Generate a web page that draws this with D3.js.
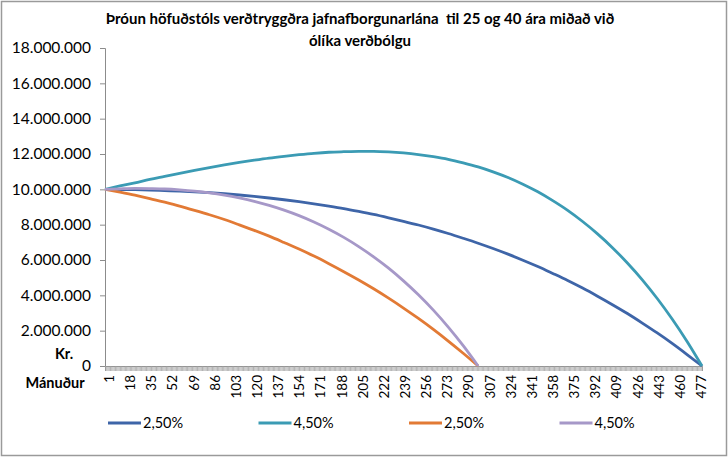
<!DOCTYPE html>
<html><head><meta charset="utf-8">
<script src="https://cdn.jsdelivr.net/npm/d3@7"></script>
<style>
body{margin:0;background:#fff;}
text{font-family:Lato,"Open Sans",sans-serif;fill:#000;}
</style></head>
<body><svg id="chart" width="728" height="457"></svg>
<script>
// ---- data (balance in kr. at yearly points) ----
const months = [0,12,24,36,48,60,72,84,96,108,120,132,144,156,168,180,192,204,216,228,240,252,264,276,288,300,312,324,336,348,360,372,384,396,408,420,432,444,456,468,480];
const s40_25 = [10000000,9990000,9980000,9960000,9930000,9900000,9860000,9810000,9750000,9680000,9600000,9510000,9410000,9300000,9180000,9050000,8910000,8750000,8580000,8390000,8190000,7980000,7750000,7500000,7230000,6950000,6650000,6330000,5990000,5630000,5240000,4840000,4410000,3950000,3470000,2970000,2430000,1870000,1280000,650000,0];
const s40_45 = [10000000,10190000,10370000,10560000,10730000,10900000,11070000,11230000,11380000,11520000,11650000,11770000,11870000,11960000,12040000,12100000,12130000,12150000,12150000,12120000,12060000,11970000,11850000,11700000,11500000,11270000,10990000,10670000,10290000,9860000,9360000,8810000,8180000,7480000,6700000,5830000,4880000,3820000,2660000,1390000,0];
const s25_25 = [10000000,9840000,9670000,9480000,9270000,9050000,8810000,8560000,8290000,7990000,7680000,7350000,6990000,6620000,6220000,5790000,5340000,4870000,4370000,3840000,3280000,2690000,2070000,1410000,720000,0];
const s25_45 = [10000000,10030000,10050000,10040000,10020000,9970000,9900000,9800000,9670000,9510000,9320000,9090000,8820000,8510000,8150000,7740000,7280000,6760000,6180000,5540000,4820000,4030000,3160000,2200000,1150000,0];
const seriesNames = ["2,50%","4,50%","2,50%","4,50%"];
const yTicks = [0,2000000,4000000,6000000,8000000,10000000,12000000,14000000,16000000,18000000];
const xTickLabels = [1,18,35,52,69,86,103,120,137,154,171,188,205,222,239,256,273,290,307,324,341,358,375,392,409,426,443,460,477];
const titleLines = ["Þróun höfuðstóls verðtryggðra jafnafborgunarlána  til 25 og 40 ára miðað við","ólíka verðbólgu"];

const colors = ["#3e65a8","#3b9bb4","#e27a35","#a698c8"];
const series = [s40_25, s40_45, s25_25, s25_45];

const svg = d3.select("#chart");
svg.append("rect").attr("x",1.5).attr("y",1.5).attr("width",725).attr("height",454)
  .attr("fill","#fff").attr("stroke","#9a9a9a").attr("stroke-width",1.5);

const x0 = 105, x1 = 702, yTop = 48, yBot = 366;
const x = d3.scaleLinear().domain([0,480]).range([x0,x1]);
const y = d3.scaleLinear().domain([0,18000000]).range([yBot,yTop]);

// title
const tt = svg.append("g");
titleLines.forEach((t,i)=>{
  tt.append("text").attr("x",360).attr("y",24+i*22).attr("text-anchor","middle")
    .style("font-weight","bold").style("font-size","15px").style("white-space","pre").text(t);
});

// y axis
const yAxis = d3.axisLeft(y).tickValues(yTicks).tickSize(5).tickPadding(9)
  .tickFormat(d=> d===0 ? "0" : d3.format(",")(d).replace(/,/g,"."));
const gy = svg.append("g").attr("transform",`translate(${x0},0)`).call(yAxis);
gy.select(".domain").attr("stroke","#8c8c8c");
gy.selectAll(".tick line").attr("stroke","#8c8c8c");
gy.selectAll(".tick text").style("font-size","15.5px").style("font-family","Lato").attr("fill","#000");

// x axis: tick at every month category
const allCats = d3.range(0,481);
const xAxis = d3.axisBottom(x).tickValues(allCats).tickSize(5).tickFormat("");
const gx = svg.append("g").attr("transform",`translate(0,${yBot})`).call(xAxis);
gx.select(".domain").attr("stroke","#8c8c8c");
gx.selectAll(".tick line").attr("stroke","#a0a0a0").attr("stroke-width",0.8);
// category labels every 17 months
const gl = svg.append("g");
xTickLabels.forEach(l=>{
  const px = x(l-1)+4;
  gl.append("text").attr("transform",`translate(${px},${yBot+9}) rotate(-90)`)
    .attr("text-anchor","end").attr("dominant-baseline","central")
    .style("font-size","13.5px").text(l);
});

svg.append("text").attr("x",64).attr("y",359).attr("text-anchor","middle")
  .style("font-weight","bold").style("font-size","14.5px").text("Kr.");
svg.append("text").attr("x",55).attr("y",388).attr("text-anchor","middle")
  .style("font-weight","bold").style("font-size","14.5px").text("Mánuður");

// lines
const line = d3.line().x(d=>x(d[0])).y(d=>y(d[1])).curve(d3.curveMonotoneX);
series.forEach((s,i)=>{
  const pts = s.map((v,k)=>[months[k],v]);
  svg.append("path").datum(pts).attr("d",line).attr("fill","none")
    .attr("stroke",colors[i]).attr("stroke-width",2.8).attr("stroke-linejoin","round");
});

// legend
const lg = svg.append("g");
seriesNames.forEach((n,i)=>{
  const lx = 108 + i*150.5;
  lg.append("line").attr("x1",lx).attr("x2",lx+33).attr("y1",423).attr("y2",423)
    .attr("stroke",colors[i]).attr("stroke-width",3);
  lg.append("text").attr("x",lx+35).attr("y",428).style("font-size","14.5px").text(n);
});
</script></body></html>
